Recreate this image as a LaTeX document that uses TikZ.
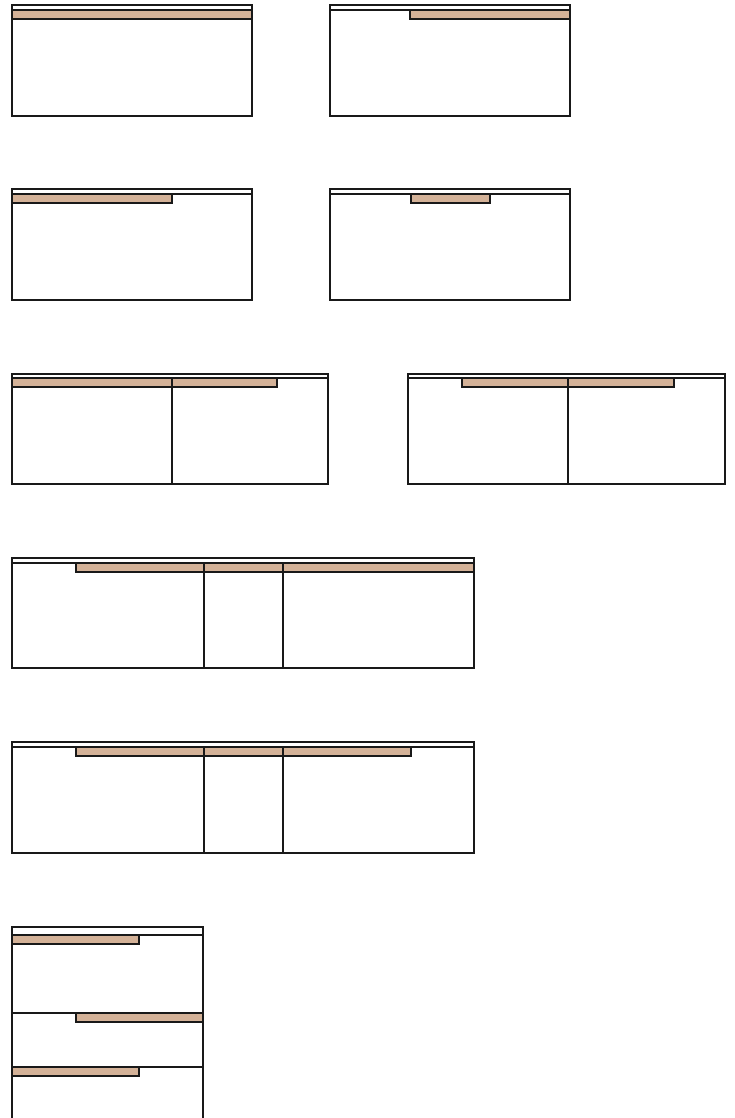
\documentclass[tikz,border=0pt]{standalone}
\usepackage{tikz}
\definecolor{tabfill}{RGB}{212,178,152}

\begin{document}
\begin{tikzpicture}[
    % one unit = one pixel of the layout, y runs downwards
    x=1pt, y=-1pt,
    frame/.style={
        draw=black!90,
        line width=1.2pt
    },
    rule/.style={
        draw=black!90,
        line width=1.2pt
    },
    tab/.style={
        draw=black!90,
        fill=tabfill,
        line width=1.2pt
    }
]
\useasboundingbox (0,0) rectangle (734,1118);

% --- Row 1: full tab, right tab ---
\draw[frame] (12,5) rectangle (252,116);
\draw[rule] (12,10) -- (252,10);
\draw[tab] (12,10) rectangle (252,19);

\draw[frame] (330,5) rectangle (570,116);
\draw[rule] (330,10) -- (570,10);
\draw[tab] (410,10) rectangle (570,19);

% --- Row 2: left tab, centred tab ---
\draw[frame] (12,189) rectangle (252,300);
\draw[rule] (12,194) -- (252,194);
\draw[tab] (12,194) rectangle (172,203);

\draw[frame] (330,189) rectangle (570,300);
\draw[rule] (330,194) -- (570,194);
\draw[tab] (411,194) rectangle (490,203);

% --- Row 3: two columns ---
\draw[frame] (12,374) rectangle (328,484);
\draw[rule] (12,378) -- (328,378);
\draw[rule] (172,378) -- (172,484);
\draw[tab] (12,378) rectangle (172,387);
\draw[tab] (172,378) rectangle (277,387);

\draw[frame] (408,374) rectangle (725,484);
\draw[rule] (408,378) -- (725,378);
\draw[rule] (568,378) -- (568,484);
\draw[tab] (462,378) rectangle (568,387);
\draw[tab] (568,378) rectangle (674,387);

% --- Row 4: three columns ---
\draw[frame] (12,558) rectangle (474,668);
\draw[rule] (12,563) -- (474,563);
\draw[rule] (204,563) -- (204,668);
\draw[rule] (283,563) -- (283,668);
\draw[tab] (76,563) rectangle (204,572);
\draw[tab] (204,563) rectangle (283,572);
\draw[tab] (283,563) rectangle (474,572);

% --- Row 5: three columns, shorter last tab ---
\draw[frame] (12,742) rectangle (474,853);
\draw[rule] (12,747) -- (474,747);
\draw[rule] (204,747) -- (204,853);
\draw[rule] (283,747) -- (283,853);
\draw[tab] (76,747) rectangle (204,756);
\draw[tab] (204,747) rectangle (283,756);
\draw[tab] (283,747) rectangle (411,756);

% --- Row 6: stacked sections, open at the bottom ---
\draw[frame] (12,1118) -- (12,927) -- (203,927) -- (203,1118);
\draw[rule] (12,935) -- (203,935);
\draw[rule] (12,1013) -- (203,1013);
\draw[rule] (12,1067) -- (203,1067);
\draw[tab] (12,935) rectangle (139,944);
\draw[tab] (76,1013) rectangle (203,1022);
\draw[tab] (12,1067) rectangle (139,1076);

\end{tikzpicture}
\end{document}
